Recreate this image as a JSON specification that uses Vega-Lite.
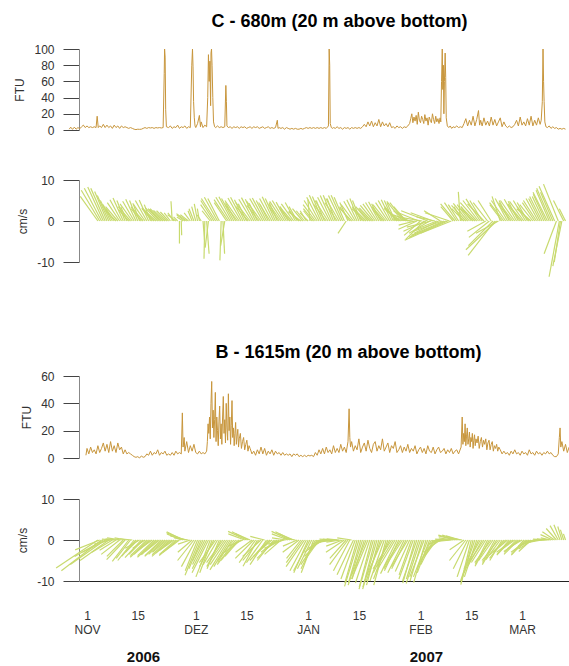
{
"$schema": "https://vega.github.io/schema/vega-lite/v6.json",
"background": "white",
"padding": {"left": 13, "top": 13, "right": 0, "bottom": 0},
"bounds": "flush",
"spacing": 0,
"config": {
  "view": {"stroke": null},
  "font": "Liberation Sans",
  "title": {"font": "Liberation Sans", "fontSize": 18, "fontWeight": "bold", "color": "#000"},
  "axis": {"grid": false, "labelFont": "Liberation Sans", "titleFont": "Liberation Sans"},
  "axisY": {"labelFontSize": 12, "labelColor": "#333", "tickSize": 16, "tickColor": "#444", "domainColor": "#888", "labelPadding": 9, "titlePadding": 7, "titleFontSize": 12, "titleFontWeight": "normal", "titleColor": "#333"}
},
"datasets": {
"ftuC": [
{"day":-4.9,"ftu":1},{"day":-4.5,"ftu":3.5},{"day":-4,"ftu":0.8},{"day":-3.5,"ftu":3.5},{"day":-3,"ftu":1},{"day":-2.5,"ftu":3},{"day":-2,"ftu":1.5},{"day":-1.5,"ftu":4},{"day":-1,"ftu":6},{"day":-0.5,"ftu":3},{"day":0,"ftu":5},{"day":0.5,"ftu":3},{"day":1,"ftu":4},{"day":1.5,"ftu":3},{"day":2,"ftu":4},{"day":2.5,"ftu":3},{"day":2.8,"ftu":17},{"day":3.1,"ftu":3},{"day":3.5,"ftu":5},{"day":4,"ftu":3},{"day":4.5,"ftu":7},{"day":5,"ftu":3},{"day":5.5,"ftu":6},{"day":6,"ftu":3},{"day":6.5,"ftu":5},{"day":7,"ftu":2},{"day":7.5,"ftu":6},{"day":8,"ftu":3},{"day":8.5,"ftu":5},{"day":9,"ftu":2},{"day":9.5,"ftu":5},{"day":10,"ftu":3},{"day":10.5,"ftu":4},{"day":11,"ftu":3},{"day":11.5,"ftu":2},{"day":12,"ftu":3},{"day":12.5,"ftu":2},{"day":13,"ftu":1},{"day":13.5,"ftu":0.5},{"day":14,"ftu":1},{"day":14.5,"ftu":0.8},{"day":15,"ftu":1},{"day":15.5,"ftu":2},{"day":16,"ftu":3},{"day":16.5,"ftu":2},{"day":17,"ftu":3},{"day":17.5,"ftu":2.5},{"day":18,"ftu":3},{"day":18.5,"ftu":2},{"day":19,"ftu":3},{"day":19.5,"ftu":2.5},{"day":20,"ftu":3},{"day":20.5,"ftu":2.5},{"day":21,"ftu":3},{"day":21.3,"ftu":70},{"day":21.4,"ftu":100},{"day":21.55,"ftu":90},{"day":21.7,"ftu":25},{"day":21.9,"ftu":4},{"day":22.5,"ftu":3},{"day":23,"ftu":5},{"day":23.5,"ftu":2},{"day":24,"ftu":4},{"day":24.5,"ftu":3},{"day":25,"ftu":6},{"day":25.5,"ftu":2},{"day":26,"ftu":4},{"day":26.5,"ftu":3},{"day":27,"ftu":5},{"day":27.5,"ftu":2},{"day":28,"ftu":4},{"day":28.5,"ftu":3},{"day":28.9,"ftu":80},{"day":29.1,"ftu":100},{"day":29.25,"ftu":78},{"day":29.4,"ftu":35},{"day":29.6,"ftu":15},{"day":29.8,"ftu":5},{"day":30,"ftu":3},{"day":30.5,"ftu":8},{"day":31,"ftu":18},{"day":31.3,"ftu":4},{"day":31.5,"ftu":10},{"day":32,"ftu":3},{"day":32.5,"ftu":6},{"day":33,"ftu":4},{"day":33.3,"ftu":40},{"day":33.5,"ftu":93},{"day":33.7,"ftu":60},{"day":33.9,"ftu":85},{"day":34.1,"ftu":30},{"day":34.2,"ftu":95},{"day":34.35,"ftu":100},{"day":34.5,"ftu":80},{"day":34.7,"ftu":40},{"day":34.9,"ftu":10},{"day":35.2,"ftu":4},{"day":35.5,"ftu":3},{"day":36,"ftu":5},{"day":36.5,"ftu":3},{"day":37,"ftu":4},{"day":37.5,"ftu":3},{"day":38,"ftu":4},{"day":38.3,"ftu":55},{"day":38.45,"ftu":35},{"day":38.6,"ftu":5},{"day":39,"ftu":3},{"day":39.5,"ftu":4},{"day":40,"ftu":2},{"day":40.5,"ftu":4},{"day":41,"ftu":3},{"day":41.5,"ftu":4},{"day":42,"ftu":2},{"day":42.5,"ftu":4},{"day":43,"ftu":3},{"day":43.5,"ftu":4},{"day":44,"ftu":2},{"day":44.5,"ftu":3},{"day":45,"ftu":4},{"day":45.5,"ftu":2},{"day":46,"ftu":4},{"day":46.5,"ftu":3},{"day":47,"ftu":4},{"day":47.5,"ftu":2},{"day":48,"ftu":3},{"day":48.5,"ftu":4},{"day":49,"ftu":2},{"day":49.5,"ftu":3},{"day":50,"ftu":4},{"day":50.5,"ftu":2},{"day":51,"ftu":3},{"day":51.5,"ftu":2},{"day":52,"ftu":3},{"day":52.5,"ftu":12},{"day":52.7,"ftu":2},{"day":53,"ftu":3},{"day":53.5,"ftu":2},{"day":54,"ftu":3},{"day":54.5,"ftu":1},{"day":55,"ftu":3},{"day":55.5,"ftu":2},{"day":56,"ftu":1},{"day":56.5,"ftu":2},{"day":57,"ftu":1},{"day":57.5,"ftu":2},{"day":58,"ftu":1},{"day":58.5,"ftu":1},{"day":59,"ftu":2},{"day":59.5,"ftu":1},{"day":60,"ftu":2},{"day":60.5,"ftu":3},{"day":61,"ftu":2},{"day":61.5,"ftu":3},{"day":62,"ftu":2},{"day":62.5,"ftu":3},{"day":63,"ftu":2},{"day":63.5,"ftu":3},{"day":64,"ftu":2},{"day":64.5,"ftu":3},{"day":65,"ftu":2},{"day":65.5,"ftu":3},{"day":66,"ftu":2},{"day":66.6,"ftu":5},{"day":66.8,"ftu":100},{"day":66.95,"ftu":80},{"day":67.1,"ftu":8},{"day":67.4,"ftu":3},{"day":67.8,"ftu":2},{"day":68,"ftu":3},{"day":68.5,"ftu":2},{"day":69,"ftu":4},{"day":69.5,"ftu":2},{"day":70,"ftu":3},{"day":70.5,"ftu":1},{"day":71,"ftu":3},{"day":71.5,"ftu":2},{"day":72,"ftu":3},{"day":72.5,"ftu":1},{"day":73,"ftu":3},{"day":73.5,"ftu":2},{"day":74,"ftu":3},{"day":74.5,"ftu":2},{"day":75,"ftu":3},{"day":75.5,"ftu":2},{"day":76,"ftu":4},{"day":76.5,"ftu":7},{"day":77,"ftu":4},{"day":77.5,"ftu":10},{"day":78,"ftu":5},{"day":78.5,"ftu":11},{"day":79,"ftu":4},{"day":79.5,"ftu":9},{"day":80,"ftu":5},{"day":80.5,"ftu":13},{"day":81,"ftu":4},{"day":81.5,"ftu":10},{"day":82,"ftu":5},{"day":82.5,"ftu":8},{"day":83,"ftu":4},{"day":83.5,"ftu":9},{"day":84,"ftu":3},{"day":84.5,"ftu":4},{"day":85,"ftu":2},{"day":85.5,"ftu":5},{"day":86,"ftu":3},{"day":86.5,"ftu":4},{"day":87,"ftu":2},{"day":87.5,"ftu":4},{"day":88,"ftu":3},{"day":88.5,"ftu":5},{"day":89,"ftu":8},{"day":89.3,"ftu":14},{"day":89.6,"ftu":20},{"day":89.9,"ftu":9},{"day":90.2,"ftu":16},{"day":90.5,"ftu":11},{"day":90.8,"ftu":18},{"day":91.1,"ftu":7},{"day":91.4,"ftu":22},{"day":91.7,"ftu":12},{"day":92,"ftu":9},{"day":92.3,"ftu":17},{"day":92.6,"ftu":13},{"day":92.9,"ftu":8},{"day":93.2,"ftu":19},{"day":93.5,"ftu":11},{"day":93.8,"ftu":15},{"day":94.1,"ftu":6},{"day":94.4,"ftu":16},{"day":94.7,"ftu":12},{"day":95,"ftu":9},{"day":95.3,"ftu":20},{"day":95.6,"ftu":13},{"day":95.9,"ftu":8},{"day":96.2,"ftu":17},{"day":96.5,"ftu":10},{"day":96.8,"ftu":14},{"day":97.1,"ftu":8},{"day":97.4,"ftu":15},{"day":97.6,"ftu":10},{"day":97.8,"ftu":60},{"day":98,"ftu":100},{"day":98.15,"ftu":50},{"day":98.3,"ftu":80},{"day":98.45,"ftu":20},{"day":98.6,"ftu":60},{"day":98.8,"ftu":95},{"day":98.95,"ftu":65},{"day":99.1,"ftu":15},{"day":99.4,"ftu":5},{"day":99.8,"ftu":3},{"day":100.2,"ftu":5},{"day":100.6,"ftu":2},{"day":101,"ftu":4},{"day":101.5,"ftu":3},{"day":102,"ftu":5},{"day":102.5,"ftu":3},{"day":103,"ftu":4},{"day":103.5,"ftu":3},{"day":104,"ftu":8},{"day":104.5,"ftu":14},{"day":105,"ftu":5},{"day":105.5,"ftu":12},{"day":106,"ftu":6},{"day":106.5,"ftu":17},{"day":107,"ftu":5},{"day":107.5,"ftu":13},{"day":108,"ftu":24},{"day":108.3,"ftu":6},{"day":108.6,"ftu":12},{"day":109,"ftu":5},{"day":109.5,"ftu":15},{"day":110,"ftu":6},{"day":110.5,"ftu":11},{"day":111,"ftu":5},{"day":111.5,"ftu":16},{"day":112,"ftu":6},{"day":112.5,"ftu":13},{"day":113,"ftu":5},{"day":113.5,"ftu":10},{"day":114,"ftu":15},{"day":114.5,"ftu":4},{"day":115,"ftu":10},{"day":115.5,"ftu":5},{"day":116,"ftu":3},{"day":116.5,"ftu":5},{"day":117,"ftu":3},{"day":117.5,"ftu":4},{"day":118,"ftu":7},{"day":118.5,"ftu":12},{"day":119,"ftu":5},{"day":119.5,"ftu":16},{"day":120,"ftu":6},{"day":120.5,"ftu":10},{"day":121,"ftu":5},{"day":121.5,"ftu":14},{"day":122,"ftu":6},{"day":122.5,"ftu":17},{"day":123,"ftu":5},{"day":123.5,"ftu":12},{"day":124,"ftu":6},{"day":124.5,"ftu":15},{"day":125,"ftu":7},{"day":125.3,"ftu":12},{"day":125.6,"ftu":35},{"day":125.8,"ftu":100},{"day":125.95,"ftu":60},{"day":126.1,"ftu":35},{"day":126.3,"ftu":10},{"day":126.6,"ftu":4},{"day":127,"ftu":3},{"day":127.5,"ftu":5},{"day":128,"ftu":2},{"day":128.5,"ftu":4},{"day":129,"ftu":2},{"day":129.5,"ftu":3},{"day":130,"ftu":1},{"day":130.5,"ftu":2},{"day":131,"ftu":1},{"day":131.5,"ftu":2},{"day":132,"ftu":1}
],
"ftuB": [
{"day":-0.3,"ftu":2},{"day":0,"ftu":7},{"day":0.5,"ftu":3},{"day":1,"ftu":8},{"day":1.5,"ftu":4},{"day":2,"ftu":6},{"day":2.5,"ftu":3},{"day":3,"ftu":9},{"day":3.5,"ftu":4},{"day":4,"ftu":7},{"day":4.5,"ftu":11},{"day":5,"ftu":5},{"day":5.5,"ftu":10},{"day":6,"ftu":4},{"day":6.5,"ftu":12},{"day":7,"ftu":5},{"day":7.5,"ftu":9},{"day":8,"ftu":4},{"day":8.5,"ftu":11},{"day":9,"ftu":6},{"day":9.5,"ftu":8},{"day":10,"ftu":3},{"day":10.5,"ftu":6},{"day":11,"ftu":3},{"day":11.5,"ftu":4},{"day":12,"ftu":3},{"day":12.5,"ftu":2},{"day":13,"ftu":1},{"day":13.5,"ftu":0.5},{"day":14,"ftu":1},{"day":14.5,"ftu":0},{"day":15,"ftu":1.5},{"day":15.5,"ftu":0.5},{"day":16,"ftu":1},{"day":16.5,"ftu":3},{"day":17,"ftu":2},{"day":17.5,"ftu":5},{"day":18,"ftu":2},{"day":18.5,"ftu":4},{"day":19,"ftu":3},{"day":19.5,"ftu":6},{"day":20,"ftu":2},{"day":20.5,"ftu":4},{"day":21,"ftu":3},{"day":21.5,"ftu":5},{"day":22,"ftu":2},{"day":22.5,"ftu":3},{"day":23,"ftu":2},{"day":23.5,"ftu":4},{"day":24,"ftu":2},{"day":24.5,"ftu":5},{"day":25,"ftu":3},{"day":25.5,"ftu":4},{"day":26,"ftu":3},{"day":26.3,"ftu":33},{"day":26.5,"ftu":8},{"day":26.8,"ftu":15},{"day":27,"ftu":5},{"day":27.5,"ftu":12},{"day":28,"ftu":4},{"day":28.5,"ftu":9},{"day":29,"ftu":5},{"day":29.5,"ftu":10},{"day":30,"ftu":4},{"day":30.5,"ftu":3},{"day":31,"ftu":5},{"day":31.5,"ftu":3},{"day":32,"ftu":4},{"day":32.5,"ftu":3},{"day":33,"ftu":5},{"day":33.2,"ftu":12},{"day":33.4,"ftu":25},{"day":33.6,"ftu":18},{"day":33.8,"ftu":30},{"day":34,"ftu":14},{"day":34.2,"ftu":40},{"day":34.4,"ftu":56},{"day":34.6,"ftu":22},{"day":34.8,"ftu":35},{"day":35,"ftu":15},{"day":35.2,"ftu":28},{"day":35.4,"ftu":48},{"day":35.6,"ftu":12},{"day":35.8,"ftu":30},{"day":36,"ftu":20},{"day":36.2,"ftu":9},{"day":36.4,"ftu":27},{"day":36.6,"ftu":38},{"day":36.8,"ftu":14},{"day":37,"ftu":25},{"day":37.2,"ftu":10},{"day":37.4,"ftu":30},{"day":37.6,"ftu":45},{"day":37.8,"ftu":18},{"day":38,"ftu":28},{"day":38.2,"ftu":11},{"day":38.4,"ftu":40},{"day":38.6,"ftu":22},{"day":38.8,"ftu":13},{"day":39,"ftu":47},{"day":39.2,"ftu":20},{"day":39.4,"ftu":30},{"day":39.6,"ftu":10},{"day":39.8,"ftu":24},{"day":40,"ftu":42},{"day":40.2,"ftu":15},{"day":40.4,"ftu":22},{"day":40.6,"ftu":9},{"day":40.8,"ftu":18},{"day":41,"ftu":26},{"day":41.2,"ftu":10},{"day":41.4,"ftu":16},{"day":41.6,"ftu":21},{"day":41.8,"ftu":8},{"day":42,"ftu":14},{"day":42.3,"ftu":18},{"day":42.6,"ftu":7},{"day":42.9,"ftu":12},{"day":43.2,"ftu":15},{"day":43.5,"ftu":6},{"day":43.8,"ftu":10},{"day":44.1,"ftu":13},{"day":44.4,"ftu":5},{"day":44.7,"ftu":9},{"day":45,"ftu":7},{"day":45.5,"ftu":3},{"day":46,"ftu":5},{"day":46.5,"ftu":2},{"day":47,"ftu":6},{"day":47.5,"ftu":3},{"day":48,"ftu":8},{"day":48.5,"ftu":3},{"day":49,"ftu":7},{"day":49.5,"ftu":2},{"day":50,"ftu":5},{"day":50.5,"ftu":3},{"day":51,"ftu":6},{"day":51.5,"ftu":2},{"day":52,"ftu":5},{"day":52.5,"ftu":3},{"day":53,"ftu":4},{"day":53.5,"ftu":2},{"day":54,"ftu":4},{"day":54.5,"ftu":2},{"day":55,"ftu":3},{"day":55.5,"ftu":2},{"day":56,"ftu":3},{"day":56.5,"ftu":1},{"day":57,"ftu":3},{"day":57.5,"ftu":2},{"day":58,"ftu":3},{"day":58.5,"ftu":1},{"day":59,"ftu":2},{"day":59.5,"ftu":1},{"day":60,"ftu":2},{"day":60.5,"ftu":1},{"day":61,"ftu":2},{"day":61.5,"ftu":1.5},{"day":62,"ftu":2},{"day":62.5,"ftu":1},{"day":63,"ftu":4},{"day":63.5,"ftu":2},{"day":64,"ftu":6},{"day":64.5,"ftu":3},{"day":65,"ftu":7},{"day":65.5,"ftu":3},{"day":66,"ftu":8},{"day":66.5,"ftu":4},{"day":67,"ftu":6},{"day":67.5,"ftu":3},{"day":68,"ftu":9},{"day":68.5,"ftu":4},{"day":69,"ftu":7},{"day":69.5,"ftu":4},{"day":70,"ftu":10},{"day":70.5,"ftu":5},{"day":71,"ftu":8},{"day":71.5,"ftu":4},{"day":72,"ftu":12},{"day":72.3,"ftu":36},{"day":72.5,"ftu":15},{"day":72.7,"ftu":8},{"day":73,"ftu":12},{"day":73.5,"ftu":5},{"day":74,"ftu":9},{"day":74.5,"ftu":6},{"day":75,"ftu":14},{"day":75.5,"ftu":4},{"day":76,"ftu":8},{"day":76.5,"ftu":11},{"day":77,"ftu":5},{"day":77.5,"ftu":13},{"day":78,"ftu":7},{"day":78.5,"ftu":4},{"day":79,"ftu":10},{"day":79.5,"ftu":12},{"day":80,"ftu":5},{"day":80.5,"ftu":9},{"day":81,"ftu":6},{"day":81.5,"ftu":14},{"day":82,"ftu":5},{"day":82.5,"ftu":8},{"day":83,"ftu":11},{"day":83.5,"ftu":4},{"day":84,"ftu":9},{"day":84.5,"ftu":7},{"day":85,"ftu":12},{"day":85.5,"ftu":4},{"day":86,"ftu":6},{"day":86.5,"ftu":9},{"day":87,"ftu":4},{"day":87.5,"ftu":8},{"day":88,"ftu":5},{"day":88.5,"ftu":10},{"day":89,"ftu":4},{"day":89.5,"ftu":7},{"day":90,"ftu":5},{"day":90.5,"ftu":9},{"day":91,"ftu":3},{"day":91.5,"ftu":6},{"day":92,"ftu":8},{"day":92.5,"ftu":4},{"day":93,"ftu":7},{"day":93.5,"ftu":3},{"day":94,"ftu":9},{"day":94.5,"ftu":5},{"day":95,"ftu":4},{"day":95.5,"ftu":8},{"day":96,"ftu":3},{"day":96.5,"ftu":6},{"day":97,"ftu":8},{"day":97.5,"ftu":4},{"day":98,"ftu":5},{"day":98.5,"ftu":7},{"day":99,"ftu":3},{"day":99.5,"ftu":6},{"day":100,"ftu":4},{"day":100.5,"ftu":7},{"day":101,"ftu":3},{"day":101.5,"ftu":5},{"day":102,"ftu":6},{"day":102.5,"ftu":3},{"day":103.2,"ftu":8},{"day":103.5,"ftu":30},{"day":103.7,"ftu":10},{"day":103.9,"ftu":18},{"day":104.1,"ftu":12},{"day":104.3,"ftu":25},{"day":104.5,"ftu":9},{"day":104.7,"ftu":16},{"day":104.9,"ftu":22},{"day":105.1,"ftu":10},{"day":105.3,"ftu":14},{"day":105.5,"ftu":19},{"day":105.7,"ftu":8},{"day":105.9,"ftu":15},{"day":106.1,"ftu":12},{"day":106.3,"ftu":18},{"day":106.5,"ftu":7},{"day":106.7,"ftu":13},{"day":106.9,"ftu":17},{"day":107.1,"ftu":9},{"day":107.3,"ftu":14},{"day":107.6,"ftu":11},{"day":107.9,"ftu":16},{"day":108.2,"ftu":7},{"day":108.5,"ftu":12},{"day":108.8,"ftu":15},{"day":109.1,"ftu":8},{"day":109.4,"ftu":13},{"day":109.7,"ftu":10},{"day":110,"ftu":14},{"day":110.3,"ftu":6},{"day":110.6,"ftu":11},{"day":110.9,"ftu":13},{"day":111.2,"ftu":6},{"day":111.5,"ftu":10},{"day":111.8,"ftu":12},{"day":112.1,"ftu":5},{"day":112.4,"ftu":9},{"day":112.7,"ftu":7},{"day":113,"ftu":10},{"day":113.3,"ftu":5},{"day":113.6,"ftu":8},{"day":114,"ftu":6},{"day":114.5,"ftu":3},{"day":115,"ftu":5},{"day":115.5,"ftu":3},{"day":116,"ftu":4},{"day":116.5,"ftu":2},{"day":117,"ftu":5},{"day":117.5,"ftu":3},{"day":118,"ftu":6},{"day":118.5,"ftu":3},{"day":119,"ftu":4},{"day":119.5,"ftu":2},{"day":120,"ftu":5},{"day":120.5,"ftu":3},{"day":121,"ftu":4},{"day":121.5,"ftu":2},{"day":122,"ftu":6},{"day":122.5,"ftu":3},{"day":123,"ftu":4},{"day":123.5,"ftu":2},{"day":124,"ftu":5},{"day":124.5,"ftu":3},{"day":125,"ftu":4},{"day":125.5,"ftu":2},{"day":126,"ftu":4},{"day":126.5,"ftu":3},{"day":127,"ftu":5},{"day":127.5,"ftu":3},{"day":128,"ftu":4},{"day":128.5,"ftu":2},{"day":129,"ftu":1},{"day":129.5,"ftu":1},{"day":130,"ftu":3},{"day":130.3,"ftu":15},{"day":130.5,"ftu":22},{"day":130.7,"ftu":8},{"day":131,"ftu":12},{"day":131.5,"ftu":5},{"day":132,"ftu":10},{"day":132.5,"ftu":4},{"day":133,"ftu":8}
],
"curC": [
{"day":3,"u":-4.3,"v":6},{"day":3.5,"u":-4.5,"v":7.5},{"day":4,"u":-4.2,"v":8},{"day":4.5,"u":-3.8,"v":8.3},{"day":5,"u":-3.5,"v":8},{"day":5.5,"u":-3,"v":7.2},{"day":6,"u":-2.8,"v":6.2},{"day":6.5,"u":-2.5,"v":5},{"day":7,"u":-2.3,"v":4},{"day":7.5,"u":-2,"v":3},{"day":8,"u":-2.5,"v":2.5},{"day":8.5,"u":-3,"v":3.5},{"day":9,"u":-3,"v":4.5},{"day":9.5,"u":-2.8,"v":5.2},{"day":10,"u":-2.5,"v":5.6},{"day":10.5,"u":-2,"v":5},{"day":11,"u":-1.5,"v":3.5},{"day":11.5,"u":-2.5,"v":2.8},{"day":12,"u":-3,"v":3.5},{"day":12.5,"u":-3,"v":4.2},{"day":13,"u":-2.8,"v":4.8},{"day":13.5,"u":-2.5,"v":5.3},{"day":14,"u":-2,"v":5},{"day":14.5,"u":-1.5,"v":4},{"day":15,"u":-2.5,"v":3},{"day":15.5,"u":-3,"v":3.5},{"day":16,"u":-3,"v":4.3},{"day":16.5,"u":-2.8,"v":5},{"day":17,"u":-2.3,"v":5.1},{"day":17.5,"u":-1.5,"v":4},{"day":18,"u":-2.5,"v":3},{"day":18.5,"u":-3,"v":3.2},{"day":19,"u":-3.2,"v":3},{"day":19.5,"u":-3,"v":3.2},{"day":20,"u":-2.8,"v":3},{"day":20.5,"u":-3,"v":2.8},{"day":21,"u":-3.2,"v":3},{"day":21.5,"u":-2.8,"v":2.6},{"day":22,"u":-2.5,"v":2.5},{"day":22.5,"u":-2,"v":2.2},{"day":23,"u":-1.5,"v":2},{"day":23.5,"u":-0.3,"v":4.8},{"day":24,"u":-1.5,"v":2},{"day":24.5,"u":-2,"v":1.5},{"day":25,"u":-1,"v":1},{"day":25.5,"u":0,"v":-5.5},{"day":26,"u":0.1,"v":-3.5},{"day":26.5,"u":-1.5,"v":1},{"day":27,"u":-2,"v":1.5},{"day":27.5,"u":-2.5,"v":1.8},{"day":28,"u":-2,"v":1.5},{"day":28.5,"u":-1.5,"v":2},{"day":29,"u":-1,"v":2.5},{"day":29.5,"u":-1.2,"v":3},{"day":30,"u":-1,"v":3.5},{"day":30.5,"u":-0.8,"v":4.2},{"day":31,"u":-0.5,"v":3},{"day":31.5,"u":-1,"v":1.5},{"day":32,"u":0.4,"v":-5},{"day":32.5,"u":-0.2,"v":-9.2},{"day":33,"u":0.6,"v":-8},{"day":33.5,"u":-0.8,"v":-6.5},{"day":34,"u":-2,"v":2.5},{"day":34.5,"u":-2.8,"v":4},{"day":35,"u":-3.2,"v":5},{"day":35.5,"u":-3.5,"v":5.5},{"day":36,"u":-3.2,"v":5.8},{"day":36.5,"u":-2.8,"v":5.5},{"day":37,"u":-0.3,"v":-9.6},{"day":37.5,"u":0.4,"v":-8},{"day":38,"u":-1,"v":-6},{"day":38.5,"u":-3,"v":4.5},{"day":39,"u":-3.5,"v":5.2},{"day":39.5,"u":-3.5,"v":5.8},{"day":40,"u":-3.2,"v":5.9},{"day":40.5,"u":-3,"v":5.5},{"day":41,"u":-2.5,"v":4.5},{"day":41.5,"u":-3,"v":4},{"day":42,"u":-3.5,"v":5},{"day":42.5,"u":-3.2,"v":5.6},{"day":43,"u":-3,"v":5.8},{"day":43.5,"u":-2.5,"v":5.2},{"day":44,"u":-2,"v":4.2},{"day":44.5,"u":-3,"v":3.5},{"day":45,"u":-3.5,"v":4.5},{"day":45.5,"u":-3.2,"v":5.3},{"day":46,"u":-3,"v":5.7},{"day":46.5,"u":-2.5,"v":5.3},{"day":47,"u":-2,"v":4.3},{"day":47.5,"u":-3,"v":3.8},{"day":48,"u":-3.5,"v":4.8},{"day":48.5,"u":-3.2,"v":5.5},{"day":49,"u":-3,"v":5.6},{"day":49.5,"u":-2.5,"v":5},{"day":50,"u":-2,"v":4},{"day":50.5,"u":-2.8,"v":4.5},{"day":51,"u":-3,"v":5.5},{"day":51.5,"u":-2.8,"v":5.9},{"day":52,"u":-2.5,"v":5.5},{"day":52.5,"u":-2,"v":4.5},{"day":53,"u":-2.5,"v":3.5},{"day":53.5,"u":-3,"v":4.2},{"day":54,"u":-3.2,"v":4.8},{"day":54.5,"u":-3,"v":5},{"day":55,"u":-2.5,"v":4.6},{"day":55.5,"u":-2,"v":3.5},{"day":56,"u":-2.5,"v":3},{"day":56.5,"u":-3,"v":3.5},{"day":57,"u":-3,"v":4.2},{"day":57.5,"u":-2.5,"v":4.5},{"day":58,"u":-2,"v":3.5},{"day":58.5,"u":-2.5,"v":2.5},{"day":59,"u":-3,"v":2.2},{"day":59.5,"u":-2.5,"v":3},{"day":60,"u":-2,"v":2.5},{"day":60.5,"u":-1.5,"v":2.5},{"day":61,"u":-2,"v":2},{"day":61.5,"u":-0.5,"v":5.2},{"day":62,"u":-2,"v":2.5},{"day":62.5,"u":-2.5,"v":3},{"day":63,"u":-3,"v":4},{"day":63.5,"u":-3.2,"v":5},{"day":64,"u":-3,"v":5.8},{"day":64.5,"u":-2.8,"v":6.3},{"day":65,"u":-2.5,"v":6},{"day":65.5,"u":-2,"v":5},{"day":66,"u":-3,"v":4},{"day":66.5,"u":-3.2,"v":5},{"day":67,"u":-3,"v":5.8},{"day":67.5,"u":-2.8,"v":6.2},{"day":68,"u":-2.5,"v":6.3},{"day":68.5,"u":-2,"v":5.5},{"day":69,"u":-3,"v":4.5},{"day":69.5,"u":-3.2,"v":5.5},{"day":70,"u":-3,"v":6.2},{"day":70.5,"u":-2.8,"v":6.3},{"day":71,"u":-2.5,"v":5.8},{"day":71.5,"u":-2,"v":-3},{"day":72,"u":-2,"v":4.5},{"day":72.5,"u":-2.5,"v":3.5},{"day":73,"u":-3,"v":3.2},{"day":73.5,"u":-3,"v":4},{"day":74,"u":-2.8,"v":4.8},{"day":74.5,"u":-2.5,"v":5.2},{"day":75,"u":-2.2,"v":5.5},{"day":75.5,"u":-2,"v":5},{"day":76,"u":-2.5,"v":3.5},{"day":76.5,"u":-3,"v":3},{"day":77,"u":-3.2,"v":3.2},{"day":77.5,"u":-3,"v":3.5},{"day":78,"u":-2.8,"v":3},{"day":78.5,"u":-3,"v":3.2},{"day":79,"u":-3.2,"v":3.8},{"day":79.5,"u":-3,"v":4.2},{"day":80,"u":-2.8,"v":4.5},{"day":80.5,"u":-2.5,"v":4.7},{"day":81,"u":-2.2,"v":4.2},{"day":81.5,"u":-2.5,"v":3},{"day":82,"u":-3,"v":3.5},{"day":82.5,"u":-3.2,"v":4},{"day":83,"u":-3,"v":4.5},{"day":83.5,"u":-2.8,"v":5},{"day":84,"u":-2.5,"v":5.2},{"day":84.5,"u":-2.2,"v":5},{"day":85,"u":-2,"v":4.5},{"day":85.5,"u":-3,"v":3.5},{"day":86,"u":-3.5,"v":3},{"day":86.5,"u":-4,"v":3.2},{"day":87,"u":-3.8,"v":4.8},{"day":87.5,"u":-3.5,"v":4.5},{"day":88,"u":-3,"v":3.5},{"day":88.5,"u":-3.5,"v":2.5},{"day":89,"u":-4,"v":1.5},{"day":89.5,"u":-4.5,"v":0.8},{"day":90,"u":-5,"v":0.3},{"day":90.5,"u":-4,"v":-1},{"day":91,"u":-4.5,"v":-2},{"day":91.5,"u":-5,"v":2},{"day":92,"u":-4,"v":-3.5},{"day":92.5,"u":-6,"v":1},{"day":93,"u":-4.5,"v":-4.5},{"day":93.5,"u":-5.5,"v":-2.5},{"day":94,"u":-6.5,"v":2.5},{"day":94.5,"u":-5,"v":-3},{"day":95,"u":-6,"v":-1.5},{"day":95.5,"u":-5.5,"v":2},{"day":96,"u":-4.5,"v":1},{"day":96.5,"u":-5,"v":-2},{"day":97,"u":-6,"v":-3},{"day":97.5,"u":-4,"v":2.5},{"day":98,"u":-7,"v":-2.5},{"day":98.5,"u":-8,"v":-3.5},{"day":99,"u":-9,"v":-4},{"day":99.5,"u":-10.5,"v":-4.7},{"day":100,"u":-6,"v":2},{"day":100.5,"u":-7.5,"v":-3},{"day":101,"u":-3,"v":3.5},{"day":101.5,"u":-3.5,"v":4.2},{"day":102,"u":-3,"v":4.5},{"day":102.5,"u":-2.5,"v":4},{"day":103,"u":-0.5,"v":7.1},{"day":103.5,"u":-2,"v":3.5},{"day":104,"u":-3,"v":3},{"day":104.5,"u":-3.5,"v":3.8},{"day":105,"u":-3.5,"v":4.3},{"day":105.5,"u":-3,"v":4},{"day":106,"u":-2.5,"v":3.5},{"day":106.5,"u":-3,"v":3},{"day":107,"u":-3.5,"v":3.5},{"day":107.5,"u":-4,"v":4.5},{"day":108,"u":-3.8,"v":5},{"day":108.5,"u":-3.5,"v":5.4},{"day":109,"u":-3,"v":5},{"day":109.5,"u":-4,"v":4.2},{"day":110,"u":-4.5,"v":-2.5},{"day":110.5,"u":-3.5,"v":4.5},{"day":111,"u":-5,"v":-4},{"day":111.5,"u":-3.2,"v":5},{"day":112,"u":-6,"v":-6},{"day":112.5,"u":-6.5,"v":-8.4},{"day":113,"u":-7.5,"v":-7},{"day":113.5,"u":-5.5,"v":-3},{"day":114,"u":-2,"v":6},{"day":114.5,"u":-3,"v":4},{"day":115,"u":-3.5,"v":4.5},{"day":115.5,"u":-3.5,"v":5},{"day":116,"u":-3,"v":5.5},{"day":116.5,"u":-2.5,"v":5},{"day":117,"u":-3,"v":4},{"day":117.5,"u":-3.5,"v":4.5},{"day":118,"u":-3.5,"v":5},{"day":118.5,"u":-3,"v":5.3},{"day":119,"u":-2.5,"v":4.8},{"day":119.5,"u":-3,"v":4},{"day":120,"u":-3.5,"v":4.2},{"day":120.5,"u":-3.5,"v":4.8},{"day":121,"u":-3,"v":5},{"day":121.5,"u":-2.5,"v":4.5},{"day":122,"u":-3,"v":3.5},{"day":122.5,"u":-3.5,"v":3},{"day":123,"u":-3.2,"v":4},{"day":123.5,"u":-3,"v":4.5},{"day":124,"u":-3.2,"v":5},{"day":124.5,"u":-3,"v":5.5},{"day":125,"u":-2.8,"v":5.5},{"day":125.5,"u":-3,"v":6},{"day":126,"u":-2.8,"v":6},{"day":126.5,"u":-3,"v":6.5},{"day":127,"u":-3.5,"v":7},{"day":127.5,"u":-3.2,"v":7.5},{"day":128,"u":-3.5,"v":8},{"day":128.5,"u":-3,"v":7},{"day":129,"u":-3.8,"v":8.5},{"day":129.5,"u":-3,"v":-8},{"day":130,"u":-3.6,"v":9},{"day":130.3,"u":-2.5,"v":-13.6},{"day":130.6,"u":-1.5,"v":-10},{"day":131,"u":-2.2,"v":-11},{"day":131.5,"u":-2.5,"v":5},{"day":132,"u":-1.5,"v":3}
],
"curB": [
{"day":3,"u":-10.2,"v":-6.8},{"day":3.5,"u":-6,"v":-2.4},{"day":4,"u":-9.8,"v":-7.5},{"day":4.5,"u":-7,"v":-4},{"day":5,"u":-8.5,"v":-6},{"day":5.5,"u":-6,"v":-3},{"day":6,"u":-7,"v":-5},{"day":6.5,"u":-4,"v":-1},{"day":7,"u":-5,"v":-3},{"day":7.5,"u":-3,"v":0.2},{"day":8,"u":-4,"v":-2.5},{"day":8.5,"u":-3,"v":0.3},{"day":9,"u":-4.5,"v":-3.5},{"day":9.5,"u":-3.5,"v":0.5},{"day":10,"u":-4,"v":-4},{"day":10.5,"u":-4.5,"v":-4.8},{"day":11,"u":-3,"v":0.5},{"day":11.5,"u":-4,"v":-5.2},{"day":12,"u":-3.5,"v":-4.5},{"day":12.5,"u":-3,"v":0.3},{"day":13,"u":-4,"v":-5},{"day":13.5,"u":-3.5,"v":-4},{"day":14,"u":-3,"v":-3},{"day":14.5,"u":-3.5,"v":-2},{"day":15,"u":-4,"v":-4.3},{"day":15.5,"u":-3.5,"v":-3.5},{"day":16,"u":-3,"v":-2},{"day":16.5,"u":-4,"v":-3.8},{"day":17,"u":-4.5,"v":-4.2},{"day":17.5,"u":-4,"v":-3.5},{"day":18,"u":-3.5,"v":-2.5},{"day":18.5,"u":-4,"v":-3.8},{"day":19,"u":-4.5,"v":-4.2},{"day":19.5,"u":-4,"v":-3.6},{"day":20,"u":-3.5,"v":-2.8},{"day":20.5,"u":-4,"v":-3.8},{"day":21,"u":-4.5,"v":-4},{"day":21.5,"u":-4,"v":-3.5},{"day":22,"u":-3.5,"v":-3},{"day":22.5,"u":-4,"v":-3.6},{"day":23,"u":-4.5,"v":-4},{"day":23.5,"u":-4,"v":-3.2},{"day":24,"u":-3.5,"v":-2.5},{"day":24.5,"u":-4,"v":-3.5},{"day":25,"u":-4.5,"v":-3.8},{"day":25.5,"u":-4,"v":-3},{"day":26,"u":-3.5,"v":1.5},{"day":26.5,"u":-4,"v":2},{"day":27,"u":-4.5,"v":1.8},{"day":27.5,"u":-4,"v":1},{"day":28,"u":-3.5,"v":0.5},{"day":28.5,"u":-3,"v":-1},{"day":29,"u":-3.5,"v":-3},{"day":29.5,"u":-4,"v":-5},{"day":30,"u":-3.5,"v":-6.5},{"day":30.5,"u":-3,"v":-7.5},{"day":31,"u":-3.5,"v":-8.6},{"day":31.5,"u":-3,"v":-7},{"day":32,"u":-2.5,"v":-5},{"day":32.5,"u":-3,"v":-6},{"day":33,"u":-3.5,"v":-7},{"day":33.5,"u":-4,"v":-8},{"day":34,"u":-3.5,"v":-9},{"day":34.5,"u":-3,"v":-8},{"day":35,"u":-3.5,"v":-6.5},{"day":35.5,"u":-4,"v":-5.5},{"day":36,"u":-3.5,"v":-6},{"day":36.5,"u":-3,"v":-7},{"day":37,"u":-3.5,"v":-6.5},{"day":37.5,"u":-4,"v":-5.5},{"day":38,"u":-3.5,"v":-5},{"day":38.5,"u":-4,"v":-6},{"day":39,"u":-4.5,"v":-7.3},{"day":39.5,"u":-4,"v":-6.5},{"day":40,"u":-3.5,"v":-5.5},{"day":40.5,"u":-4,"v":-5},{"day":41,"u":-4.5,"v":-6},{"day":41.5,"u":-4,"v":-5},{"day":42,"u":-3.5,"v":-4},{"day":42.5,"u":-4,"v":-3},{"day":43,"u":-3.5,"v":-1.5},{"day":43.5,"u":-4,"v":1.5},{"day":44,"u":-4.5,"v":2.1},{"day":44.5,"u":-4,"v":2},{"day":45,"u":-3.5,"v":1.5},{"day":45.5,"u":-4,"v":-3},{"day":46,"u":-4.5,"v":-4.5},{"day":46.5,"u":-4,"v":-5.5},{"day":47,"u":-3.5,"v":-6.4},{"day":47.5,"u":-4,"v":-5},{"day":48,"u":-4.5,"v":-4},{"day":48.5,"u":-4,"v":-5.5},{"day":49,"u":-3.5,"v":0.9},{"day":49.5,"u":-4,"v":-6},{"day":50,"u":-4.5,"v":-5},{"day":50.5,"u":-4,"v":-4},{"day":51,"u":-3.5,"v":-3},{"day":51.5,"u":-4,"v":-5},{"day":52,"u":-4.5,"v":-4.5},{"day":52.5,"u":-4,"v":-3},{"day":53,"u":-3.5,"v":-2.4},{"day":53.5,"u":-4,"v":-3.5},{"day":54,"u":-4.5,"v":-2},{"day":54.5,"u":-4,"v":-1},{"day":55,"u":-3.5,"v":0.5},{"day":55.5,"u":-4,"v":1.5},{"day":56,"u":-4.5,"v":2.1},{"day":56.5,"u":-4,"v":2},{"day":57,"u":-3.5,"v":1.5},{"day":57.5,"u":-3,"v":0.5},{"day":58,"u":-3.5,"v":-1.5},{"day":58.5,"u":-4,"v":-3},{"day":59,"u":-3.5,"v":-4.5},{"day":59.5,"u":-4,"v":-5.5},{"day":60,"u":-4.5,"v":-6.5},{"day":60.5,"u":-4,"v":-7.5},{"day":61,"u":-3.5,"v":-8},{"day":61.5,"u":-4,"v":-7.5},{"day":62,"u":-3.5,"v":-7},{"day":62.5,"u":-3,"v":-8},{"day":63,"u":-3.5,"v":-7},{"day":63.5,"u":-4,"v":-6},{"day":64,"u":-3.5,"v":-5},{"day":64.5,"u":-4,"v":-4},{"day":65,"u":-4.5,"v":-3},{"day":65.5,"u":-4,"v":-2},{"day":66,"u":-3.5,"v":-1},{"day":66.5,"u":-3,"v":-0.5},{"day":67,"u":-3.5,"v":-0.2},{"day":67.5,"u":-3,"v":0.2},{"day":68,"u":-3.5,"v":-0.5},{"day":68.5,"u":-3,"v":-0.3},{"day":69,"u":-3.5,"v":0.2},{"day":69.5,"u":-3,"v":0.3},{"day":70,"u":-3.5,"v":-0.5},{"day":70.5,"u":-4,"v":-1.5},{"day":71,"u":-4.5,"v":-3},{"day":71.5,"u":-4,"v":-4.5},{"day":72,"u":-4.5,"v":-6},{"day":72.5,"u":-4,"v":-7.5},{"day":73,"u":-3.5,"v":0.5},{"day":73.5,"u":-4,"v":-8.5},{"day":74,"u":-3.5,"v":-9.5},{"day":74.5,"u":-3,"v":-10.5},{"day":75,"u":-3.5,"v":-11.3},{"day":75.5,"u":-3,"v":-10.5},{"day":76,"u":-3.5,"v":-11},{"day":76.5,"u":-3,"v":-9.5},{"day":77,"u":-3.5,"v":-8.5},{"day":77.5,"u":-4,"v":-9.5},{"day":78,"u":-3.5,"v":-10.5},{"day":78.5,"u":-3,"v":-11.5},{"day":79,"u":-3.5,"v":-12},{"day":79.5,"u":-3,"v":-11.5},{"day":80,"u":-3.5,"v":-12},{"day":80.5,"u":-3,"v":-11},{"day":81,"u":-3.5,"v":-10},{"day":81.5,"u":-4,"v":-9},{"day":82,"u":-3.5,"v":-10},{"day":82.5,"u":-3,"v":-11},{"day":83,"u":-3.5,"v":-9.5},{"day":83.5,"u":-4,"v":-8},{"day":84,"u":-4.5,"v":-7},{"day":84.5,"u":-4,"v":-6.5},{"day":85,"u":-4.5,"v":-7.5},{"day":85.5,"u":-4,"v":-8.2},{"day":86,"u":-3.5,"v":-7.5},{"day":86.5,"u":-4,"v":-6.5},{"day":87,"u":-4.5,"v":-7},{"day":87.5,"u":-4,"v":-8},{"day":88,"u":-3.5,"v":-7},{"day":88.5,"u":-4,"v":-6.5},{"day":89,"u":-3.5,"v":-7.7},{"day":89.5,"u":-3,"v":-8.5},{"day":90,"u":-3.5,"v":-9.5},{"day":90.5,"u":-3,"v":-10.5},{"day":91,"u":-3.5,"v":-10},{"day":91.5,"u":-3,"v":-9.5},{"day":92,"u":-3.5,"v":-10.6},{"day":92.5,"u":-3,"v":-10},{"day":93,"u":-3.5,"v":-9},{"day":93.5,"u":-3,"v":-10.4},{"day":94,"u":-3.5,"v":-9},{"day":94.5,"u":-3,"v":-8},{"day":95,"u":-3.5,"v":-7},{"day":95.5,"u":-3,"v":-6},{"day":96,"u":-3.5,"v":-5},{"day":96.5,"u":-3,"v":-4},{"day":97,"u":-3.5,"v":-3},{"day":97.5,"u":-3,"v":-2},{"day":98,"u":-3.5,"v":-1},{"day":98.5,"u":-3,"v":-0.5},{"day":99,"u":-3.5,"v":-0.2},{"day":99.5,"u":-3,"v":0},{"day":100,"u":-3.5,"v":0.2},{"day":100.5,"u":-3,"v":-0.3},{"day":101,"u":-3.5,"v":0.5},{"day":101.5,"u":-4,"v":1},{"day":102,"u":-4.5,"v":1.2},{"day":102.5,"u":-4,"v":1.2},{"day":103,"u":-3.5,"v":1},{"day":103.5,"u":-3,"v":0.5},{"day":104,"u":-3.5,"v":-2.4},{"day":104.5,"u":-4,"v":-5},{"day":105,"u":-3.5,"v":-7},{"day":105.5,"u":-3,"v":-9},{"day":106,"u":-2.5,"v":-10.5},{"day":106.5,"u":-3,"v":-10.9},{"day":107,"u":-3.5,"v":-10},{"day":107.5,"u":-3,"v":-9},{"day":108,"u":-3.5,"v":-8},{"day":108.5,"u":-4,"v":-7},{"day":109,"u":-3.5,"v":-6.4},{"day":109.5,"u":-4,"v":-6},{"day":110,"u":-3.5,"v":-5.5},{"day":110.5,"u":-3,"v":-6},{"day":111,"u":-3.5,"v":-6.4},{"day":111.5,"u":-4,"v":-5.5},{"day":112,"u":-3.5,"v":-5},{"day":112.5,"u":-3,"v":-5.5},{"day":113,"u":-3.5,"v":-6},{"day":113.5,"u":-4,"v":-5},{"day":114,"u":-3.5,"v":-4.8},{"day":114.5,"u":-3,"v":-5},{"day":115,"u":-3.5,"v":-4.5},{"day":115.5,"u":-4,"v":-3.7},{"day":116,"u":-3.5,"v":-3},{"day":116.5,"u":-3,"v":-3.5},{"day":117,"u":-3.5,"v":-3.7},{"day":117.5,"u":-4,"v":-3},{"day":118,"u":-3.5,"v":-2.5},{"day":118.5,"u":-3,"v":-3},{"day":119,"u":-3.5,"v":-3.5},{"day":119.5,"u":-4,"v":-2.8},{"day":120,"u":-3.5,"v":-2.1},{"day":120.5,"u":-3,"v":-3.5},{"day":121,"u":-3.5,"v":-3.7},{"day":121.5,"u":-4,"v":-3},{"day":122,"u":-3.5,"v":-2.5},{"day":122.5,"u":-3,"v":-2.8},{"day":123,"u":-3.5,"v":-2.2},{"day":123.5,"u":-4,"v":-1.5},{"day":124,"u":-3.5,"v":-1},{"day":124.5,"u":-3,"v":-0.5},{"day":125,"u":-3.5,"v":-0.3},{"day":125.5,"u":-3,"v":-0.5},{"day":126,"u":-3.5,"v":-0.2},{"day":126.5,"u":-3,"v":0},{"day":127,"u":-3.5,"v":0.2},{"day":127.5,"u":-3,"v":0.3},{"day":128,"u":-2.5,"v":0.5},{"day":128.5,"u":-3,"v":1.3},{"day":129,"u":-3,"v":2},{"day":129.5,"u":-2.5,"v":2.8},{"day":130,"u":-2,"v":3.5},{"day":130.5,"u":-1.5,"v":3.7},{"day":131,"u":-1,"v":3.3},{"day":131.5,"u":-0.8,"v":2.5},{"day":132,"u":-0.5,"v":1.5}
],
"years": [{"day":15.45,"year":"2006"},{"day":93.5,"year":"2007"}]
},
"vconcat": [
{
  "width": 491, "height": 81,
  "title": {"text": "C - 680m (20 m above bottom)", "dx": 15, "offset": 12},
  "data": {"name": "ftuC"},
  "mark": {"type": "line", "color": "#c8963c", "strokeWidth": 1},
  "encoding": {
    "x": {"field": "day", "type": "quantitative", "scale": {"domain": [-2.21, 133.24], "nice": false, "zero": false}, "axis": null},
    "y": {"field": "ftu", "type": "quantitative", "scale": {"domain": [0, 100], "nice": false}, "axis": {"title": "FTU", "values": [0, 20, 40, 60, 80, 100]}}
  }
},
{"width": 491, "height": 50, "data": {"values": [{"gap": 1}]}, "mark": {"type": "point", "opacity": 0}, "encoding": {}},
{
  "width": 491, "height": 82,
  "data": {"name": "curC"},
  "transform": [{"calculate": "datum.day + datum.u * 1.13", "as": "tip"}],
  "mark": {"type": "rule", "color": "#c8da6e", "strokeWidth": 1.2},
  "encoding": {
    "x": {"field": "tip", "type": "quantitative", "scale": {"domain": [-2.21, 133.24], "nice": false, "zero": false}, "axis": null},
    "x2": {"field": "day"},
    "y": {"field": "v", "type": "quantitative", "scale": {"domain": [-10, 10], "nice": false}, "axis": {"title": "cm/s", "values": [-10, 0, 10], "labelExpr": "datum.value < 0 ? '-10' : datum.label"}},
    "y2": {"datum": 0}
  }
},
{"width": 491, "height": 114, "data": {"values": [{"gap": 1}]}, "mark": {"type": "point", "opacity": 0}, "encoding": {}},
{
  "width": 491, "height": 82,
  "title": {"text": "B - 1615m (20 m above bottom)", "dx": 24, "offset": 8},
  "data": {"name": "ftuB"},
  "mark": {"type": "line", "color": "#c8963c", "strokeWidth": 1},
  "encoding": {
    "x": {"field": "day", "type": "quantitative", "scale": {"domain": [-2.21, 133.24], "nice": false, "zero": false}, "axis": null},
    "y": {"field": "ftu", "type": "quantitative", "scale": {"domain": [0, 60], "nice": false}, "axis": {"title": "FTU", "values": [0, 20, 40, 60]}}
  }
},
{"width": 491, "height": 41, "data": {"values": [{"gap": 1}]}, "mark": {"type": "point", "opacity": 0}, "encoding": {}},
{
  "width": 491, "height": 82,
  "layer": [
    {
      "data": {"name": "curB"},
      "transform": [{"calculate": "datum.day + datum.u * 1.13", "as": "tip"}],
      "mark": {"type": "rule", "color": "#c8da6e", "strokeWidth": 1.2},
      "encoding": {
        "x": {"field": "tip", "type": "quantitative", "scale": {"domain": [-2.21, 133.24], "nice": false, "zero": false},
              "axis": {"orient": "bottom", "values": [0, 14, 30, 44, 61, 75, 92, 106, 120], "labelExpr": "datum.value == 0 ? ['1','NOV'] : datum.value == 30 ? ['1','DEZ'] : datum.value == 61 ? ['1','JAN'] : datum.value == 92 ? ['1','FEB'] : datum.value == 120 ? ['1','MAR'] : '15'", "ticks": false, "domainColor": "#222", "labelPadding": 29, "labelLineHeight": 14, "labelFontSize": 12, "labelColor": "#333", "title": null, "labelOverlap": false, "labelFlush": false}},
        "x2": {"field": "day"},
        "y": {"field": "v", "type": "quantitative", "scale": {"domain": [-10, 10], "nice": false}, "axis": {"title": "cm/s", "values": [-10, 0, 10], "labelExpr": "datum.value < 0 ? '-10' : datum.label"}},
        "y2": {"datum": 0}
      }
    },
    {
      "data": {"name": "years"},
      "mark": {"type": "point", "opacity": 0},
      "encoding": {
        "x": {"field": "day", "type": "quantitative", "scale": {"domain": [-2.21, 133.24], "nice": false, "zero": false},
              "axis": {"orient": "bottom", "values": [15.45, 93.5], "labelExpr": "datum.value < 50 ? '2006' : '2007'", "domain": false, "ticks": false, "labelPadding": 68, "labelFontSize": 15, "labelFontWeight": "bold", "labelColor": "#111", "title": null, "labelOverlap": false, "labelFlush": false}}
      }
    }
  ],
  "resolve": {"axis": {"x": "independent"}}
}
]
}
